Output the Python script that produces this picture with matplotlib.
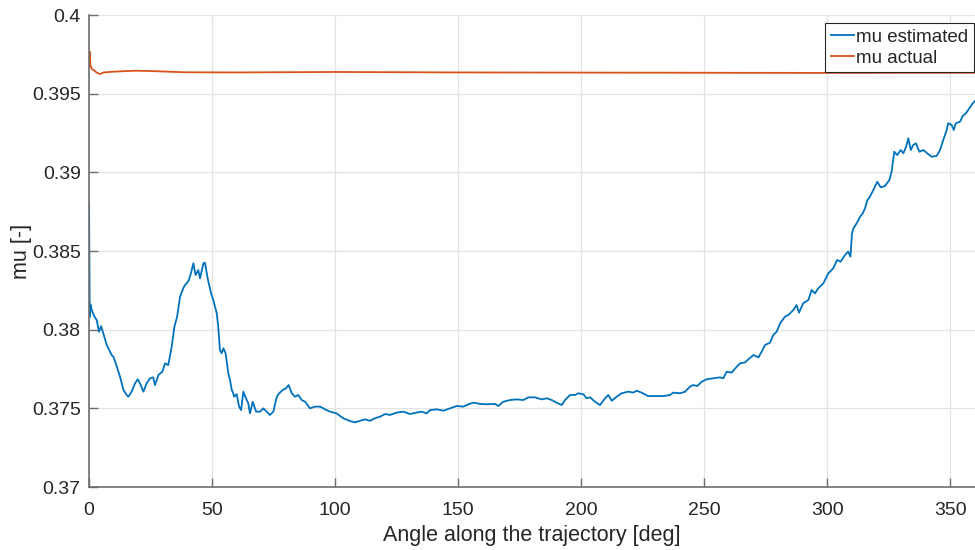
import matplotlib
matplotlib.use('Agg')
import matplotlib.pyplot as plt

# values
angle_est = [0, 0.3, 0.6, 1.1, 2.0, 3.1, 4.1, 4.9, 5.8, 7.2, 9.2, 9.9, 11.3, 12.6, 14.0,
             15.3, 16.0, 17.3, 18.7, 19.8, 20.7, 22.1, 23.4, 24.8, 26.1, 26.8, 28.2, 29.8,
             30.9, 32.2, 33.6, 34.7, 35.8, 37.0, 38.3, 39.0, 39.7, 40.6, 41.4, 42.4, 43.3,
             44.4, 45.1, 46.5, 47.1, 48.2, 49.6, 50.5, 51.9, 52.5, 53.2, 53.9, 54.6, 55.5,
             56.6, 57.3, 58.0, 58.6, 59.0, 60.0, 61.0, 61.8, 62.7, 63.8, 64.7, 65.4, 66.5,
             67.9, 69.5, 70.8, 72.2, 73.5, 74.9, 76.3, 77.3, 78.7, 80.0, 81.1, 82.4, 83.7,
             85.0, 86.4, 87.8, 89.8, 91.8, 93.9, 95.9, 97.9, 100.6, 103.3, 106.1, 108.1,
             110.1, 112.1, 114.2, 116.2, 118.2, 120.3, 122.3, 125.0, 127.7, 130.4, 133.1,
             135.2, 137.2, 138.6, 141.3, 144.0, 146.7, 149.4, 152.1, 154.5, 156.2, 158.9,
             161.6, 165.0, 166.3, 168.3, 171.1, 173.8, 176.5, 178.5, 181.2, 183.9, 186.0,
             188.0, 190.0, 192.1, 193.4, 195.5, 197.5, 198.8, 200.9, 202.2, 203.6, 205.6,
             207.6, 209.7, 211.0, 212.4, 214.4, 216.4, 219.1, 221.2, 222.5, 224.5, 227.2,
             230.0, 233.4, 236.1, 237.4, 240.2, 242.2, 244.2, 245.5, 247.2, 248.9, 251.0,
             253.7, 256.4, 257.7, 259.1, 261.1, 263.2, 264.5, 266.6, 267.9, 270.0, 272.0,
             273.3, 274.7, 276.7, 278.0, 279.4, 280.8, 282.8, 284.1, 286.2, 287.5, 288.5,
             290.2, 292.3, 293.6, 295.0, 296.3, 298.4, 300.4, 302.4, 304.0, 305.4, 307.2,
             308.5, 309.4, 310.0, 310.6, 311.9, 313.3, 314.4, 315.3, 316.3, 317.3, 318.7,
             320.3, 321.7, 323.4, 325.2, 326.1, 327.2, 328.4, 329.8, 330.9, 332.0, 332.9,
             333.9, 334.9, 336.0, 337.4, 339.0, 340.6, 342.4, 344.4, 345.8, 347.1, 348.5,
             349.1, 350.5, 351.4, 352.2, 353.9, 355.0, 356.3, 357.7, 359.1, 360.0]
mu_est = [0.3880, 0.3808, 0.3816, 0.38125, 0.3809, 0.38061, 0.37987, 0.38023, 0.37977,
          0.37903, 0.37839, 0.37828, 0.37765, 0.37701, 0.37617, 0.37585, 0.37574, 0.37606,
          0.37659, 0.37685, 0.37659, 0.37606, 0.37659, 0.37691, 0.37697, 0.37648, 0.37712,
          0.37733, 0.37786, 0.37775, 0.37892, 0.38019, 0.38083, 0.38210, 0.38263, 0.38284,
          0.38295, 0.38316, 0.38358, 0.38422, 0.38347, 0.38379, 0.38326, 0.38422, 0.38426,
          0.38326, 0.38231, 0.38189, 0.38104, 0.38019, 0.37871, 0.37850, 0.37882, 0.37850,
          0.37723, 0.37680, 0.37617, 0.37596, 0.37574, 0.37590, 0.37510, 0.37489, 0.37606,
          0.37564, 0.37532, 0.37468, 0.37542, 0.37479, 0.37479, 0.37500, 0.37479, 0.37458,
          0.37479, 0.37574, 0.37596, 0.37617, 0.37627, 0.37648, 0.37596, 0.37574, 0.37585,
          0.37553, 0.37542, 0.37500, 0.37511, 0.37511, 0.37494, 0.37479, 0.37468, 0.37437,
          0.37419, 0.37411, 0.37421, 0.37430, 0.37421, 0.37437, 0.37447, 0.37464, 0.37458,
          0.37473, 0.37479, 0.37464, 0.37473, 0.37479, 0.37468, 0.37489, 0.37494, 0.37485,
          0.37500, 0.37515, 0.37511, 0.37528, 0.37536, 0.37528, 0.37526, 0.37528, 0.37515,
          0.37542, 0.37553, 0.37557, 0.37553, 0.37570, 0.37570, 0.37557, 0.37564, 0.37553,
          0.37536, 0.37521, 0.37553, 0.37585, 0.37585, 0.37596, 0.37589, 0.37564, 0.37570,
          0.37542, 0.37521, 0.37564, 0.37585, 0.37548, 0.37574, 0.37596, 0.37606, 0.37600,
          0.37612, 0.37600, 0.37578, 0.37578, 0.37578, 0.37585, 0.37600, 0.37596, 0.37606,
          0.37638, 0.37648, 0.37642, 0.37669, 0.37685, 0.37691, 0.37697, 0.37691, 0.37733,
          0.37727, 0.37765, 0.37786, 0.37792, 0.37812, 0.37839, 0.37824, 0.37860, 0.37903,
          0.37917, 0.37966, 0.37987, 0.38040, 0.38083, 0.38093, 0.38125, 0.38157, 0.38108,
          0.38168, 0.38189, 0.38252, 0.38231, 0.38263, 0.38295, 0.38358, 0.38390, 0.38443,
          0.38432, 0.38475, 0.38496, 0.38464, 0.38610, 0.38644, 0.38676, 0.38718, 0.38740,
          0.38771, 0.38824, 0.38845, 0.38888, 0.38940, 0.38905, 0.38913, 0.38951, 0.39004,
          0.39131, 0.39110, 0.39142, 0.39121, 0.39163, 0.39216, 0.39142, 0.39174, 0.39184,
          0.39131, 0.39142, 0.39121, 0.39099, 0.39104, 0.39142, 0.39205, 0.39269, 0.39312,
          0.39301, 0.39269, 0.39312, 0.39322, 0.39358, 0.39375, 0.39407, 0.39439, 0.39453]

angle_act = [0, 0.3, 0.6, 1.2, 2.0, 3.0, 4.5, 6.0, 10.0, 18.7, 25.0, 39.0, 60.0, 100.0,
             150.0, 200.0, 250.0, 300.0, 360.0]
mu_act = [0.39663, 0.39767, 0.39680, 0.39655, 0.39650, 0.39635, 0.39625, 0.39635, 0.39640,
          0.39646, 0.39644, 0.39636, 0.39635, 0.39638, 0.39635, 0.39634, 0.39633, 0.39632,
          0.39633]

x_ticks = [0, 50, 100, 150, 200, 250, 300, 350]
y_ticks = [0.37, 0.375, 0.38, 0.385, 0.39, 0.395, 0.4]
y_labels = ['0.37', '0.375', '0.38', '0.385', '0.39', '0.395', '0.4']

plt.rcParams['font.family'] = ['Liberation Sans', 'DejaVu Sans']
dark = '#262626'

fig = plt.figure(figsize=(9.75, 5.5), dpi=100)
ax = fig.add_axes([0.0913, 0.1145, 0.9087, 0.8582])

ax.plot(angle_est, mu_est, color='#0072BD', lw=1.3, label='mu estimated')
ax.plot(angle_act, mu_act, color='#D95319', lw=1.3, label='mu actual')

ax.set_xlim(0, 360)
ax.set_ylim(0.37, 0.4)
ax.set_xticks(x_ticks)
ax.set_yticks(y_ticks)
ax.set_yticklabels(y_labels)
ax.grid(True, color='#e3e3e3', lw=0.9)
ax.set_axisbelow(True)

for s in ['top', 'right']:
    ax.spines[s].set_visible(False)
for s in ['left', 'bottom']:
    ax.spines[s].set_color('#6e6e6e')
    ax.spines[s].set_linewidth(1.2)

ax.tick_params(direction='in', length=6.5, width=1.0, color='#6e6e6e',
               labelsize=14, labelcolor=dark, pad=6)
ax.tick_params(axis='x', pad=11)

ax.set_xlabel('Angle along the trajectory [deg]', fontsize=15.5, color=dark, labelpad=4)
ax.set_ylabel('mu [-]', fontsize=15.5, color=dark, labelpad=0)

leg = ax.legend(loc='upper right', bbox_to_anchor=(0.999, 0.983), borderaxespad=0,
                fontsize=13.5, frameon=True, fancybox=False, framealpha=1,
                handlelength=1.25, handletextpad=0.1, borderpad=0.3, labelspacing=0.2)
leg.get_frame().set_edgecolor(dark)
leg.get_frame().set_linewidth(0.8)
for t in leg.get_texts():
    t.set_color(dark)

fig.savefig('out.png', dpi=100)
